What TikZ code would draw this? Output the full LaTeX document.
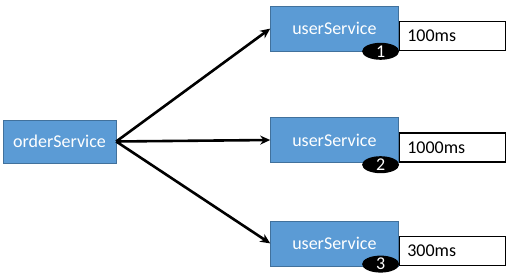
\documentclass[tikz,border=0pt]{standalone}
\usepackage{fontspec}
\setmainfont{Carlito}
\usepackage{tikz}
\usetikzlibrary{shapes.geometric, positioning, arrows.meta}
\definecolor{svcblue}{HTML}{5B9BD5}
\definecolor{svcedge}{HTML}{41719C}
\tikzset{
  svcnode/.style = {rectangle, draw=svcedge, fill=svcblue, text=white, inner sep=0pt, font=\fontsize{18}{20}\selectfont},
  usrnode/.style = {svcnode, minimum width=128pt, minimum height=45pt},
  timenode/.style = {rectangle, draw=black, line width=1.3pt, fill=white, anchor=south west, align=left, text width=90pt, inner xsep=8pt, minimum height=29pt, font=\fontsize{18}{20}\selectfont},
  tagnode/.style = {ellipse, fill=black, text=white, inner sep=0pt, minimum width=37pt, minimum height=17pt, font=\fontsize{18}{18}\selectfont}
}

\begin{document}
\begin{tikzpicture}
\useasboundingbox (0,0) rectangle (512pt,276pt);

% Caller on the left
\node [svcnode, minimum width=113pt, minimum height=43pt] (order) at (59.5pt,134.5pt) {orderService};

% Three callees
\node [usrnode, right=154pt of order, yshift=1.5pt] (usr2) {userService};
\node [usrnode, above=66pt of usr2] (usr1) {userService};
\node [usrnode, below=58pt of usr2] (usr3) {userService};

% Response times
\node [timenode] (t1) at (usr1.south east) {100ms};
\node [timenode] (t2) at (usr2.south east) {1000ms};
\node [timenode] (t3) at (usr3.south east) {300ms};

% Call order
\node [tagnode] (n1) at ([xshift=-18pt]usr1.south east) {1};
\node [tagnode] (n2) at ([xshift=-18pt, yshift=-2pt]usr2.south east) {2};
\node [tagnode] (n3) at ([xshift=-18pt, yshift=2pt]usr3.south east) {3};

\foreach \u in {usr1, usr2, usr3}
  \draw[-{Stealth[length=10pt, width=9pt]}, line width=2.6pt] (order.east) -- (\u.west);

\end{tikzpicture}
\end{document}
